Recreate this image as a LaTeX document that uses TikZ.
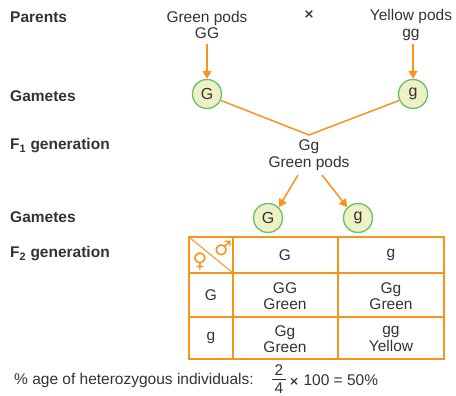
\documentclass[tikz,border=0pt]{standalone}
\usepackage{fontspec}
\setmainfont{Liberation Sans}
\newfontfamily\symfont{DejaVu Sans}
\usetikzlibrary{arrows.meta}
\definecolor{org}{HTML}{F7941D}
\definecolor{txt}{HTML}{333333}
\definecolor{cfill}{HTML}{EEF1C6}
\definecolor{cline}{HTML}{6CC46A}
\tikzset{
  lbl/.style={anchor=west, font=\fontsize{15.5}{17}\selectfont\bfseries, text=txt, inner sep=0pt},
  tx/.style={font=\fontsize{15.5}{16.5}\selectfont, text=txt, inner sep=0pt, align=center},
  gam/.style={circle, draw=cline, fill=cfill, line width=1.4pt, minimum size=29pt, inner sep=0pt, font=\fontsize{16}{18}\selectfont, text=txt},
  oarr/.style={draw=org, line width=1.5pt, -{Triangle[width=9pt,length=8pt]}},
  oline/.style={draw=org, line width=1.5pt},
  grid/.style={draw=org, line width=1.3pt}
}
\begin{document}
\begin{tikzpicture}[x=1pt,y=-1pt]
\useasboundingbox (0,0) rectangle (456,396);
% left labels
\node[lbl] (lpar) at (10,17) {Parents};
\node[lbl] (lgam1) at (10,96) {Gametes};
\node[lbl] (lf1) at (10,146) {F\textsubscript{1} generation};
\node[lbl] (lgam2) at (10,217) {Gametes};
\node[lbl] (lf2) at (10,254) {F\textsubscript{2} generation};
% parents
\node[tx] (pg) at (207,25) {Green pods\\GG};
\node[tx] (cross) at (309,15) {\symfont\bfseries\fontsize{13}{14}\selectfont ×};
\node[tx] (py) at (411,25) {Yellow pods\\gg};
\node[gam] (g1) at (207,94) {G};
\node[gam] (g2) at (413,94) {g};
\draw[oarr] (207,44) -- (g1.north);
\draw[oarr] (413,44) -- (g2.north);
\coordinate (v) at (309,135);
\draw[oline] (g1.-25) -- (v) -- (g2.-155);
% F1
\node[tx] (f1) at (309,155) {Gg\\Green pods};
\node[gam] (g3) at (268,218) {G};
\node[gam] (g4) at (358,218) {g};
\coordinate (a1) at (298,175);
\coordinate (a2) at (322,175);
\draw[oarr] (a1) -- (g3.north east);
\draw[oarr] (a2) -- (g4.north west);
% table
\coordinate (t1) at (189,237);
\coordinate (t2) at (444,359);
\draw[grid] (t1) rectangle (t2);
\draw[grid] (189,273) -- (444,273);
\draw[grid] (189,317) -- (444,317);
\draw[grid] (233,237) -- (233,359);
\draw[grid] (338,237) -- (338,359);
\draw[draw=org, line width=1pt] (t1) -- (233,273);
\node[text=org, inner sep=0pt] (fem) at (200,261) {\symfont\fontsize{20}{21}\selectfont ♀};
\node[text=org, inner sep=0pt] (mal) at (223,248) {\symfont\fontsize{20}{21}\selectfont ♂};
\node[tx] (hG) at (285,255) {G};
\node[tx] (hg) at (391,255) {g};
\node[tx] (rG) at (211,295) {G};
\node[tx] (rg) at (211,338) {g};
\node[tx] (c11) at (285,296) {GG\\Green};
\node[tx] (c12) at (391,296) {Gg\\Green};
\node[tx] (c21) at (285,339) {Gg\\Green};
\node[tx] (c22) at (391,339) {gg\\Yellow};
% bottom
\node[tx, anchor=west] (pct) at (14,380) {\% age of heterozygous individuals:};
\node[tx] (num) at (279,370) {2};
\node[tx] (den) at (279,388) {4};
\draw[draw=txt, line width=0.8pt] (272,379.5) -- (286,379.5);
\node[tx, anchor=west] (rest) at (289,380) {{\symfont\bfseries\fontsize{12}{13}\selectfont ×} 100 = 50\%};
\end{tikzpicture}
\end{document}
